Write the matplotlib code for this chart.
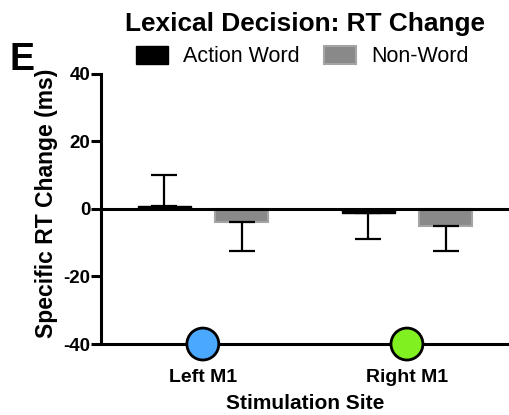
import numpy as np
import matplotlib.pyplot as plt
from matplotlib.patches import Patch

plt.rcParams['font.family'] = ['Liberation Sans', 'DejaVu Sans']
plt.rcParams['axes.unicode_minus'] = False

# data
sites = ['Left M1', 'Right M1']
action_word = [0.8, -1.1]
non_word = [-3.8, -5.0]
action_err = [9.3, 7.9]
non_word_err = [8.6, 7.4]
site_colors = ['#4aa8ff', '#80f020']

x = np.arange(len(sites))
w = 0.26
off = 0.19

fig = plt.figure(figsize=(5.09, 4.15), dpi=100)
ax = fig.add_axes([0.198, 0.171, 0.802, 0.651])

# one-sided error bars (away from zero)
a_yerr = [[0 if v >= 0 else e for v, e in zip(action_word, action_err)],
          [e if v >= 0 else 0 for v, e in zip(action_word, action_err)]]
n_yerr = [[0 if v >= 0 else e for v, e in zip(non_word, non_word_err)],
          [e if v >= 0 else 0 for v, e in zip(non_word, non_word_err)]]

ekw = dict(elinewidth=1.6, capthick=1.6, ecolor='black')
ax.bar(x - off, action_word, w, color='black', edgecolor='black', linewidth=1,
       yerr=a_yerr, capsize=9.5, error_kw=ekw, zorder=2)
ax.bar(x + off, non_word, w, color='#898989', edgecolor='#a4a4a4', linewidth=1.5,
       yerr=n_yerr, capsize=9.5, error_kw=ekw, zorder=2)

ax.axhline(0, color='black', lw=2.2, zorder=3)

ax.set_xlim(-0.5, 1.5)
ax.set_ylim(-40, 40)
ax.set_yticks([-40, -20, 0, 20, 40])
for s in ['top', 'right']:
    ax.spines[s].set_visible(False)
ax.spines['left'].set_linewidth(2.2)
ax.spines['bottom'].set_linewidth(2.2)
ax.tick_params(axis='y', width=2.2, length=7, labelsize=13.5, pad=0.5)
ax.tick_params(axis='x', length=0, labelsize=14, pad=18)
for lab in ax.get_yticklabels():
    lab.set_fontweight('bold')
ax.set_xticks(x)
ax.set_xticklabels(sites, fontweight='bold')

ax.scatter(x, [-40, -40], s=23**2, c=site_colors, edgecolors='black', linewidths=2,
           clip_on=False, zorder=5)

ax.set_ylabel('Specific RT Change (ms)', fontsize=16.5, fontweight='bold', labelpad=4, y=0.522)
ax.set_xlabel('Stimulation Site', fontsize=15, fontweight='bold', labelpad=6)

fig.text(0.6, 0.942, 'Lexical Decision: RT Change', ha='center', va='center',
         fontsize=18.9, fontweight='bold')
fig.text(0.018, 0.855, 'E', ha='left', va='center', fontsize=27, fontweight='bold')

handles = [Patch(facecolor='black', edgecolor='black'),
           Patch(facecolor='#898989', edgecolor='#a4a4a4', linewidth=1.5)]
fig.legend(handles, ['Action Word', 'Non-Word'], loc='center', bbox_to_anchor=(0.594, 0.863),
           ncol=2, frameon=False, fontsize=15.5, handlelength=1.5, handleheight=0.85,
           columnspacing=1.1, handletextpad=0.7, borderaxespad=0)

fig.savefig('out.png', dpi=100)
